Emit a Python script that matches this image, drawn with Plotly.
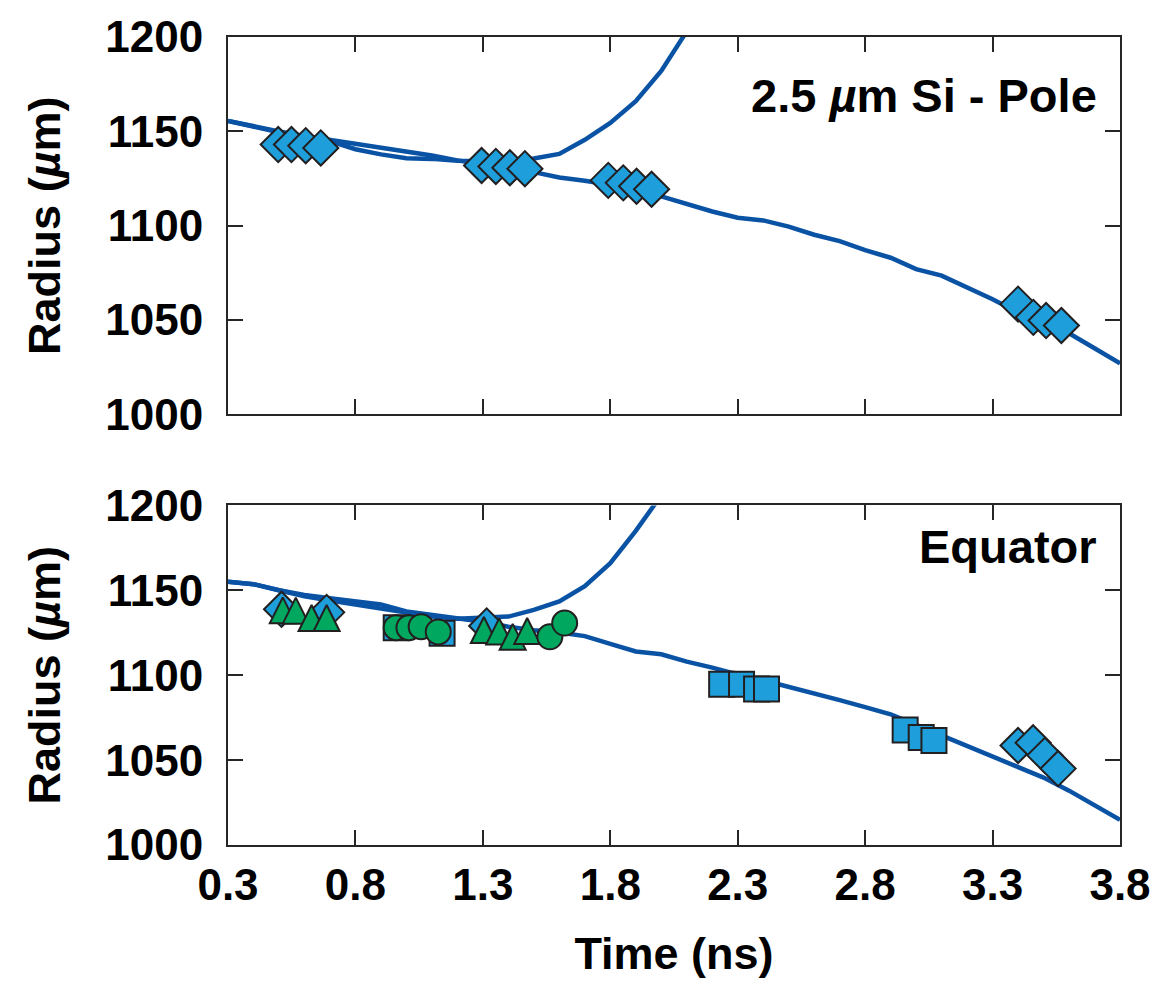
import plotly.graph_objects as go

# ---- simulated trajectories (time in ns, radius in um) ----
t_sim = [0.3, 0.4, 0.5, 0.6, 0.7, 0.8, 0.9, 1.0, 1.1, 1.2, 1.3, 1.4, 1.5, 1.6, 1.7,
         1.8, 1.9, 2.0, 2.1, 2.2, 2.3, 2.4, 2.5, 2.6, 2.7, 2.8, 2.9, 3.0, 3.1, 3.2,
         3.3, 3.4, 3.5, 3.6, 3.7, 3.8]

pole_sim_main = [1155.5, 1152.5, 1150.0, 1147.5, 1145.5, 1143.8, 1141.6, 1139.5, 1137.2,
                 1134.6, 1132.3, 1130.6, 1128.4, 1125.5, 1123.8, 1121.8, 1119.5, 1115.5,
                 1111.5, 1107.5, 1104.2, 1102.8, 1099.5, 1095.2, 1091.8, 1087.0, 1083.0,
                 1077.0, 1073.5, 1067.5, 1061.0, 1054.0, 1048.5, 1043.0, 1035.0, 1027.0]

t_rise_pole = [0.3, 0.4, 0.5, 0.6, 0.7, 0.8, 0.9, 1.0, 1.1, 1.2, 1.3, 1.4, 1.5, 1.6,
               1.7, 1.8, 1.9, 2.0, 2.1, 2.2]
pole_sim_rise = [1155.5, 1152.5, 1149.5, 1146.5, 1144.8, 1140.5, 1137.8, 1135.7, 1135.4,
                 1134.4, 1134.2, 1134.4, 1135.6, 1138.0, 1145.5, 1154.5, 1166.0, 1182.0,
                 1203.0, 1230.0]

eq_sim_main = [1155.0, 1153.6, 1150.0, 1147.3, 1145.3, 1143.5, 1141.7, 1137.5, 1135.5,
               1133.6, 1131.5, 1128.5, 1126.5, 1125.2, 1123.0, 1118.5, 1114.0, 1112.3,
               1108.0, 1104.5, 1100.4, 1097.0, 1093.3, 1089.3, 1085.3, 1081.2, 1077.0,
               1070.7, 1064.4, 1058.6, 1052.0, 1045.5, 1039.7, 1032.0, 1023.5, 1014.8]

t_rise_eq = [0.3, 0.4, 0.5, 0.6, 0.7, 0.8, 0.9, 1.0, 1.1, 1.2, 1.3, 1.4, 1.5, 1.6,
             1.7, 1.8, 1.9, 2.0, 2.1]
eq_sim_rise = [1155.0, 1153.6, 1150.0, 1146.5, 1144.0, 1141.5, 1139.5, 1137.0, 1134.5,
               1133.3, 1133.8, 1134.5, 1138.5, 1143.5, 1152.5, 1166.0, 1185.0, 1206.0,
               1232.0]

# ---- measured radii ----
pole_t = [0.497, 0.549, 0.605, 0.664, 1.295, 1.351, 1.406, 1.465,
          1.792, 1.851, 1.903, 1.962, 3.400, 3.460, 3.510, 3.570]
pole_r = [1143.0, 1143.0, 1142.4, 1141.2, 1131.9, 1131.4, 1130.7, 1130.2,
          1124.0, 1122.7, 1120.9, 1119.3, 1058.4, 1051.4, 1049.7, 1047.1]

eq_dia_t = [0.510, 0.687, 1.315, 3.400, 3.459, 3.505, 3.557]
eq_dia_r = [1138.8, 1137.0, 1129.0, 1058.6, 1060.2, 1052.8, 1045.0]

eq_sq_t = [0.960, 1.140, 2.237, 2.315, 2.374, 2.413, 2.957, 3.020, 3.070]
eq_sq_r = [1128.0, 1124.7, 1094.7, 1094.7, 1091.8, 1091.8, 1067.8, 1063.3, 1061.6]

eq_tri_t = [0.515, 0.566, 0.628, 0.687, 1.304, 1.364, 1.417, 1.474]
eq_tri_r = [1138.2, 1138.0, 1133.7, 1133.7, 1126.6, 1125.8, 1122.6, 1126.0]

eq_circ_t = [0.960, 1.010, 1.058, 1.125, 1.563, 1.621]
eq_circ_r = [1128.0, 1128.0, 1128.6, 1125.5, 1122.6, 1130.7]

x_ticks = [0.3, 0.8, 1.3, 1.8, 2.3, 2.8, 3.3, 3.8]
x_tick_text = ["0.3", "0.8", "1.3", "1.8", "2.3", "2.8", "3.3", "3.8"]
y_ticks = [1000, 1050, 1100, 1150, 1200]

LINE_BLUE = "#0A53A4"
FILL_BLUE = "#1E9FDB"
FILL_GREEN = "#00A75E"
EDGE = "#231F20"
FONT = "Liberation Sans, Arial, Helvetica, sans-serif"

fig = go.Figure()


def sim_line(x, y, xa, ya):
    fig.add_trace(go.Scatter(x=x, y=y, mode="lines", xaxis=xa, yaxis=ya,
                             line=dict(color=LINE_BLUE, width=4.5),
                             hoverinfo="skip", showlegend=False))


def points(x, y, xa, ya, symbol, color, size, angle=0, standoff=0):
    fig.add_trace(go.Scatter(
        x=x, y=y, mode="markers", xaxis=xa, yaxis=ya, showlegend=False,
        marker=dict(symbol=symbol, size=size, color=color, angle=angle,
                    standoff=standoff, line=dict(color=EDGE, width=2))))


# top panel: pole
sim_line(t_rise_pole, pole_sim_rise, "x", "y")
sim_line(t_sim, pole_sim_main, "x", "y")
points(pole_t, pole_r, "x", "y", "diamond", FILL_BLUE, 27)

# bottom panel: equator
sim_line(t_rise_eq, eq_sim_rise, "x2", "y2")
sim_line(t_sim, eq_sim_main, "x2", "y2")
points(eq_dia_t, eq_dia_r, "x2", "y2", "diamond", FILL_BLUE, 27)
points(eq_sq_t, eq_sq_r, "x2", "y2", "square", FILL_BLUE, 25)
# upward triangle centred on its point (arrow head flipped, shifted by half its height)
points(eq_tri_t, eq_tri_r, "x2", "y2", "arrow-down", FILL_GREEN, 26, angle=180, standoff=13)
points(eq_circ_t, eq_circ_r, "x2", "y2", "circle", FILL_GREEN, 25)

tick_font = dict(family=FONT, size=44, color="black", weight="bold")
title_font = dict(family=FONT, size=45, color="black")

axis_common = dict(
    showgrid=False, zeroline=False, showline=True, linecolor="#262626", linewidth=2,
    mirror="ticks", ticks="inside", ticklen=15, tickwidth=2, tickcolor="#262626",
    tickfont=tick_font,
)

fig.update_layout(
    width=1168, height=987, autosize=False,
    margin=dict(l=228, r=48, t=29, b=142),
    paper_bgcolor="white", plot_bgcolor="white",
    font=dict(family=FONT, color="black"),
    xaxis=dict(axis_common, domain=[0, 1], range=[0.3, 3.8], tickvals=x_ticks,
               showticklabels=False, anchor="y"),
    yaxis=dict(axis_common, domain=[0.533, 1], range=[1000, 1200], tickvals=y_ticks,
               anchor="x", ticklabelstandoff=14,
               title=dict(text="<b>Radius (<i>µ</i>m)</b>", standoff=31, font=title_font)),
    xaxis2=dict(axis_common, domain=[0, 1], range=[0.3, 3.8], tickvals=x_ticks,
                ticktext=x_tick_text, anchor="y2", ticklabelstandoff=0,
                title=dict(text="<b>Time (ns)</b>", standoff=30, font=title_font)),
    yaxis2=dict(axis_common, domain=[0, 0.4203], range=[1000, 1200], tickvals=y_ticks,
                anchor="x2", ticklabelstandoff=14,
                title=dict(text="<b>Radius (<i>µ</i>m)</b>", standoff=31, font=title_font)),
)

fig.add_annotation(text="<b>2.5 <i>µ</i>m Si - Pole</b>", xref="x domain", yref="y domain",
                   x=0.976, y=0.845, xanchor="right", yanchor="middle", showarrow=False,
                   font=dict(family=FONT, size=47, color="black"))
fig.add_annotation(text="<b>Equator</b>", xref="x2 domain", yref="y2 domain",
                   x=0.976, y=0.88, xanchor="right", yanchor="middle", showarrow=False,
                   font=dict(family=FONT, size=47, color="black"))

fig.write_html("out.html")
